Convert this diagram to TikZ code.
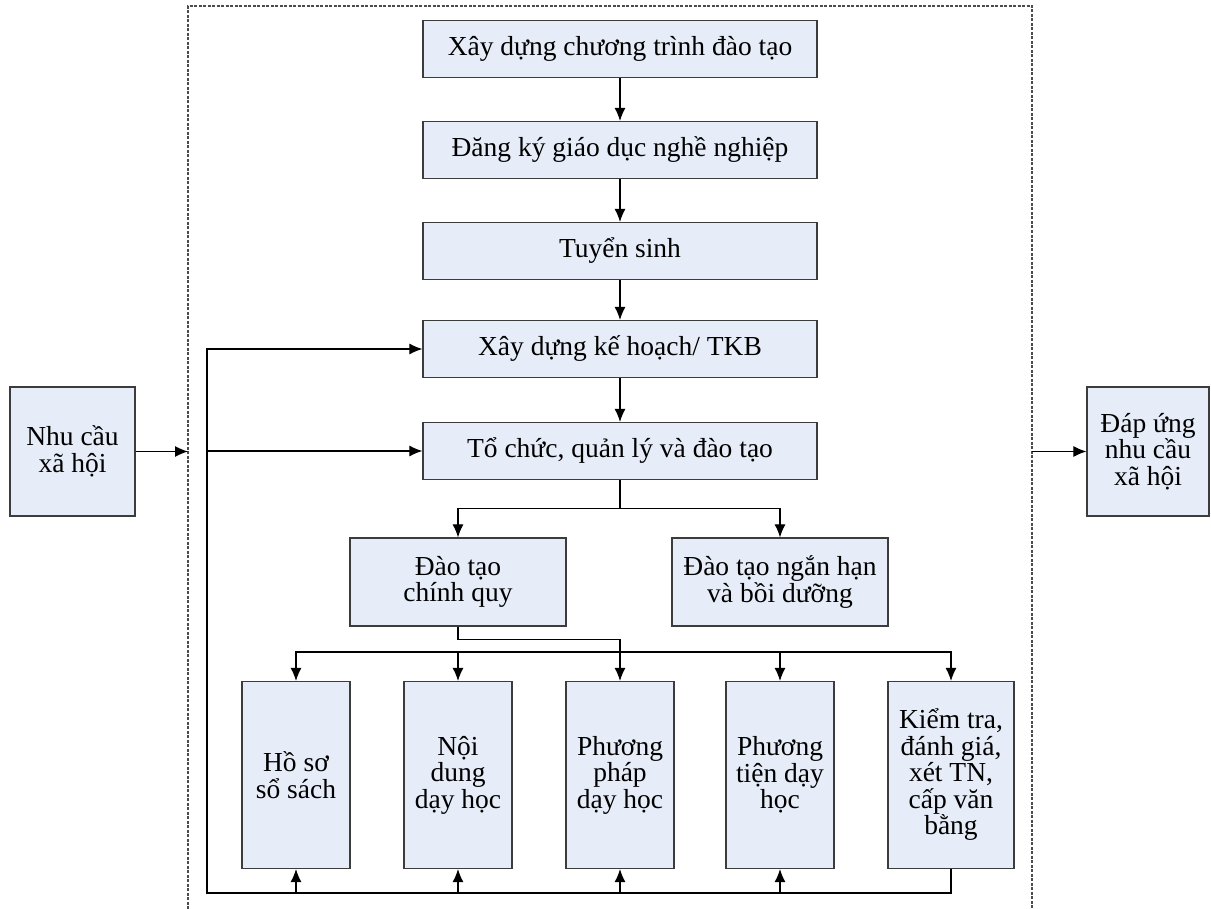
\documentclass[tikz,border=0pt]{standalone}
\usepackage{fontspec}
\setmainfont{Liberation Serif}
\usetikzlibrary{arrows.meta}
\definecolor{boxfill}{RGB}{230,237,248}
\definecolor{boxline}{RGB}{60,60,60}
\tikzset{
  box/.style={draw=boxline, line width=1.2pt, fill=boxfill, align=center, inner sep=0pt,
    font=\fontsize{27.5}{26.5}\selectfont},
  wide/.style={box, minimum width=394pt, minimum height=57pt},
  mid/.style={box, minimum width=216pt, minimum height=88pt},
  tall/.style={box, minimum width=108pt, minimum height=187pt},
  arr/.style={line width=1.1pt, -{Latex[length=13pt,width=11pt]}},
}
\begin{document}
\begin{tikzpicture}[x=1pt,y=-1pt]
\useasboundingbox (0,0) rectangle (1211,909);

\draw [black!70, line width=1.2pt, dash pattern=on 3pt off 1.5pt] (188,909) |- (1032,6) -- (1032,909) ;

\node [wide] (xd) at (620,49) {Xây dựng chương trình đào tạo};
\node [wide] (dk) at (620,150) {Đăng ký giáo dục nghề nghiệp};
\node [wide] (ts) at (620,251) {Tuyển sinh};
\node [wide] (kh) at (620,349) {Xây dựng kế hoạch/ TKB};
\node [wide] (tc) at (620,451) {Tổ chức, quản lý và đào tạo};

\node [mid] (cq) at (458,582) {Đào tạo\\chính quy};
\node [mid] (nh) at (780,582) {Đào tạo ngắn hạn\\và bồi dưỡng};

\node [tall] (hs) at (296,775) {Hồ sơ\\sổ sách};
\node [tall] (nd) at (458,775) {Nội\\dung\\dạy học};
\node [tall] (pp) at (620,775) {Phương\\pháp\\dạy học};
\node [tall] (pt) at (780,775) {Phương\\tiện dạy\\học};
\node [tall, minimum width=126pt] (kt) at (951,775) {Kiểm tra,\\đánh giá,\\xét TN,\\cấp văn\\bằng};

\node [box, minimum width=125pt, minimum height=129pt] (nc) at (72.5,451.5) {Nhu cầu\\xã hội};
\node [box, minimum width=122pt, minimum height=129pt] (du) at (1148,451.5) {Đáp ứng\\nhu cầu\\xã hội};

\coordinate (inL) at (188,451.5);
\coordinate (outR) at (1032,451.5);
\coordinate (bus) at (620,652);
\coordinate (fb) at (207,893);

\draw [arr] (xd) -- (dk) ;
\draw [arr] (dk) -- (ts) ;
\draw [arr] (ts) -- (kh) ;
\draw [arr] (kh) -- (tc) ;

\draw [arr] (tc.south) -- ++(0,28) -| (cq.north) ;
\draw [arr] (tc.south) -- ++(0,28) -| (nh.north) ;

\draw [arr] (cq.south) -- ++(0,13) -| (pp.north) ;
\foreach \n in {hs,nd,pt,kt}
  \draw [arr] (bus) -| (\n.north) ;

\draw [arr] (kt.south) |- (fb) |- (kh.west) ;
\draw [arr] (fb |- tc.west) -- (tc.west) ;
\foreach \n in {hs,nd,pp,pt}
  \draw [arr] (\n.south |- fb) -- (\n.south) ;

\draw [arr] (nc.east) -- (inL) ;
\draw [arr] (outR) -- (du.west) ;

\end{tikzpicture}
\end{document}
